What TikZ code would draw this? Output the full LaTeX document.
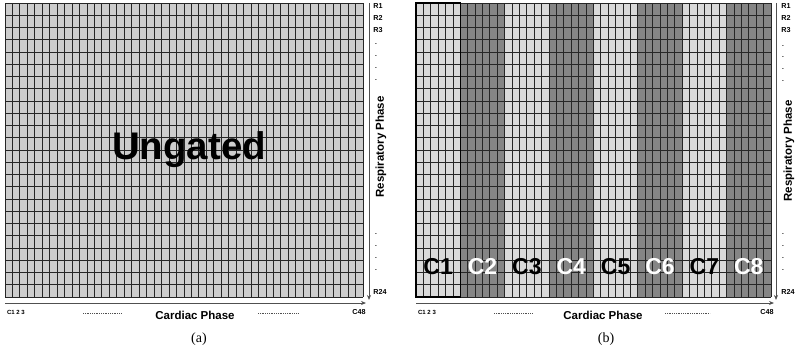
\documentclass[tikz,border=0pt]{standalone}
\usepackage{fontspec}
\setmainfont{Liberation Sans}
\newfontfamily\capfont{Liberation Serif}
\usetikzlibrary{arrows.meta}
\definecolor{gridlight}{HTML}{CDCDCD}
\definecolor{bandlight}{HTML}{DADADA}
\definecolor{banddark}{HTML}{858585}
\definecolor{gridline}{HTML}{262626}
\definecolor{axisgray}{HTML}{505050}
\tikzset{
  gline/.style={draw=gridline, line width=0.95pt},
  axisline/.style={draw=axisgray, line width=0.8pt, -{Stealth[length=5pt,width=4pt]}},
  dotline/.style={draw=axisgray, line width=0.6pt, dash pattern=on 0.8pt off 1pt},
  small/.style={font=\bfseries\fontsize{7.2}{8}\selectfont, inner sep=0pt},
  tiny/.style={font=\bfseries\fontsize{6}{6.5}\selectfont, inner sep=0pt},
  axislabel/.style={font=\bfseries\fontsize{11.5}{12}\selectfont, inner sep=0pt},
  bandlabel/.style={font=\bfseries\fontsize{23}{23}\selectfont, inner sep=0pt},
  caption/.style={font=\capfont\fontsize{14}{14}\selectfont, inner sep=0pt},
  vdot/.style={font=\bfseries\fontsize{6.5}{7}\selectfont, inner sep=0pt}
}
\begin{document}
\begin{tikzpicture}[x=1pt,y=-1pt]
\useasboundingbox (0,0) rectangle (800,346);
% ---------- panel (a) ----------
\fill[gridlight] (5,3) rectangle (363,297);
\foreach \i in {0,...,48} \draw[gline] ({5+\i*(358/48)},3) -- ++(0,294);
\foreach \j in {0,...,24} \draw[gline] (5,{3+\j*(294/24)}) -- ++(358,0);
\node[font=\bfseries\fontsize{38.5}{38.5}\selectfont, inner sep=0pt] (ung) at (189,150) {Ungated};
\coordinate (aVtop) at (369,3);
\coordinate (aVbot) at (369,300);
\coordinate (aHl) at (5,303);
\coordinate (aHr) at (366,303);
\draw[axisline] (aVtop) -- (aVbot);
\draw[axisline] (aHl) -- (aHr);
\node[small] (aR1) at (378,6) {R1};
\node[small] (aR2) at (378,18) {R2};
\node[small] (aR3) at (378,30) {R3};
\foreach \y [count=\n] in {44,56,68,80} \node[vdot] (aud\n) at (376,\y) {.};
\foreach \y [count=\n] in {234,246,258,270} \node[vdot] (ald\n) at (376,\y) {.};
\node[small] (aR24) at (380,292) {R24};
\node[axislabel, rotate=90] (aresp) at (381,147) {Respiratory Phase};
\node[tiny] (aC123) at (16,312) {C1 2 3};
\node[small] (aC48) at (359,312) {C48};
\coordinate (ad1a) at (83,313); \coordinate (ad1b) at (122,313);
\coordinate (ad2a) at (258,313); \coordinate (ad2b) at (299,313);
\draw[dotline] (ad1a) -- (ad1b);
\draw[dotline] (ad2a) -- (ad2b);
\node[axislabel] (acard) at (195,315) {Cardiac Phase};
\node[caption] (capa) at (199,339) {(a)};
% ---------- panel (b) ----------
\foreach \k in {0,...,7} {
  \pgfmathsetmacro{\xa}{416+\k*(355/8)}
  \ifodd\k
    \fill[banddark] (\xa,3) rectangle ++(355/8,294);
  \else
    \fill[bandlight] (\xa,3) rectangle ++(355/8,294);
  \fi
}
\foreach \i in {0,...,48} \draw[gline] ({416+\i*(355/48)},3) -- ++(0,294);
\foreach \j in {0,...,24} \draw[gline] (416,{3+\j*(294/24)}) -- ++(355,0);
\draw[black, line width=1.4pt] (416,3) rectangle ({416+355/8},297);
\foreach \k in {1,...,8} {
  \pgfmathsetmacro{\xc}{416+(\k-0.5)*(355/8)}
  \ifodd\k
    \node[bandlabel, text=black] (bC\k) at (\xc,267) {C\k};
  \else
    \node[bandlabel, text=white] (bC\k) at (\xc,267) {C\k};
  \fi
}
\coordinate (bVtop) at (776,3);
\coordinate (bVbot) at (776,300);
\coordinate (bHl) at (416,303);
\coordinate (bHr) at (774,303);
\draw[axisline] (bVtop) -- (bVbot);
\draw[axisline] (bHl) -- (bHr);
\node[small] (bR1) at (786,6) {R1};
\node[small] (bR2) at (786,18) {R2};
\node[small] (bR3) at (786,30) {R3};
\foreach \y [count=\n] in {46,57,69,81} \node[vdot] (bud\n) at (783,\y) {.};
\foreach \y [count=\n] in {234,246,258,270} \node[vdot] (bld\n) at (783,\y) {.};
\node[small] (bR24) at (788,292) {R24};
\node[axislabel, rotate=90] (bresp) at (789,151) {Respiratory Phase};
\node[tiny] (bC123) at (427,312) {C1 2 3};
\node[small] (bC48) at (767,312) {C48};
\coordinate (bd1a) at (494,313); \coordinate (bd1b) at (532,313);
\coordinate (bd2a) at (665,313); \coordinate (bd2b) at (710,313);
\draw[dotline] (bd1a) -- (bd1b);
\draw[dotline] (bd2a) -- (bd2b);
\node[axislabel] (bcard) at (603,315) {Cardiac Phase};
\node[caption] (capb) at (606,339) {(b)};
\end{tikzpicture}
\end{document}
